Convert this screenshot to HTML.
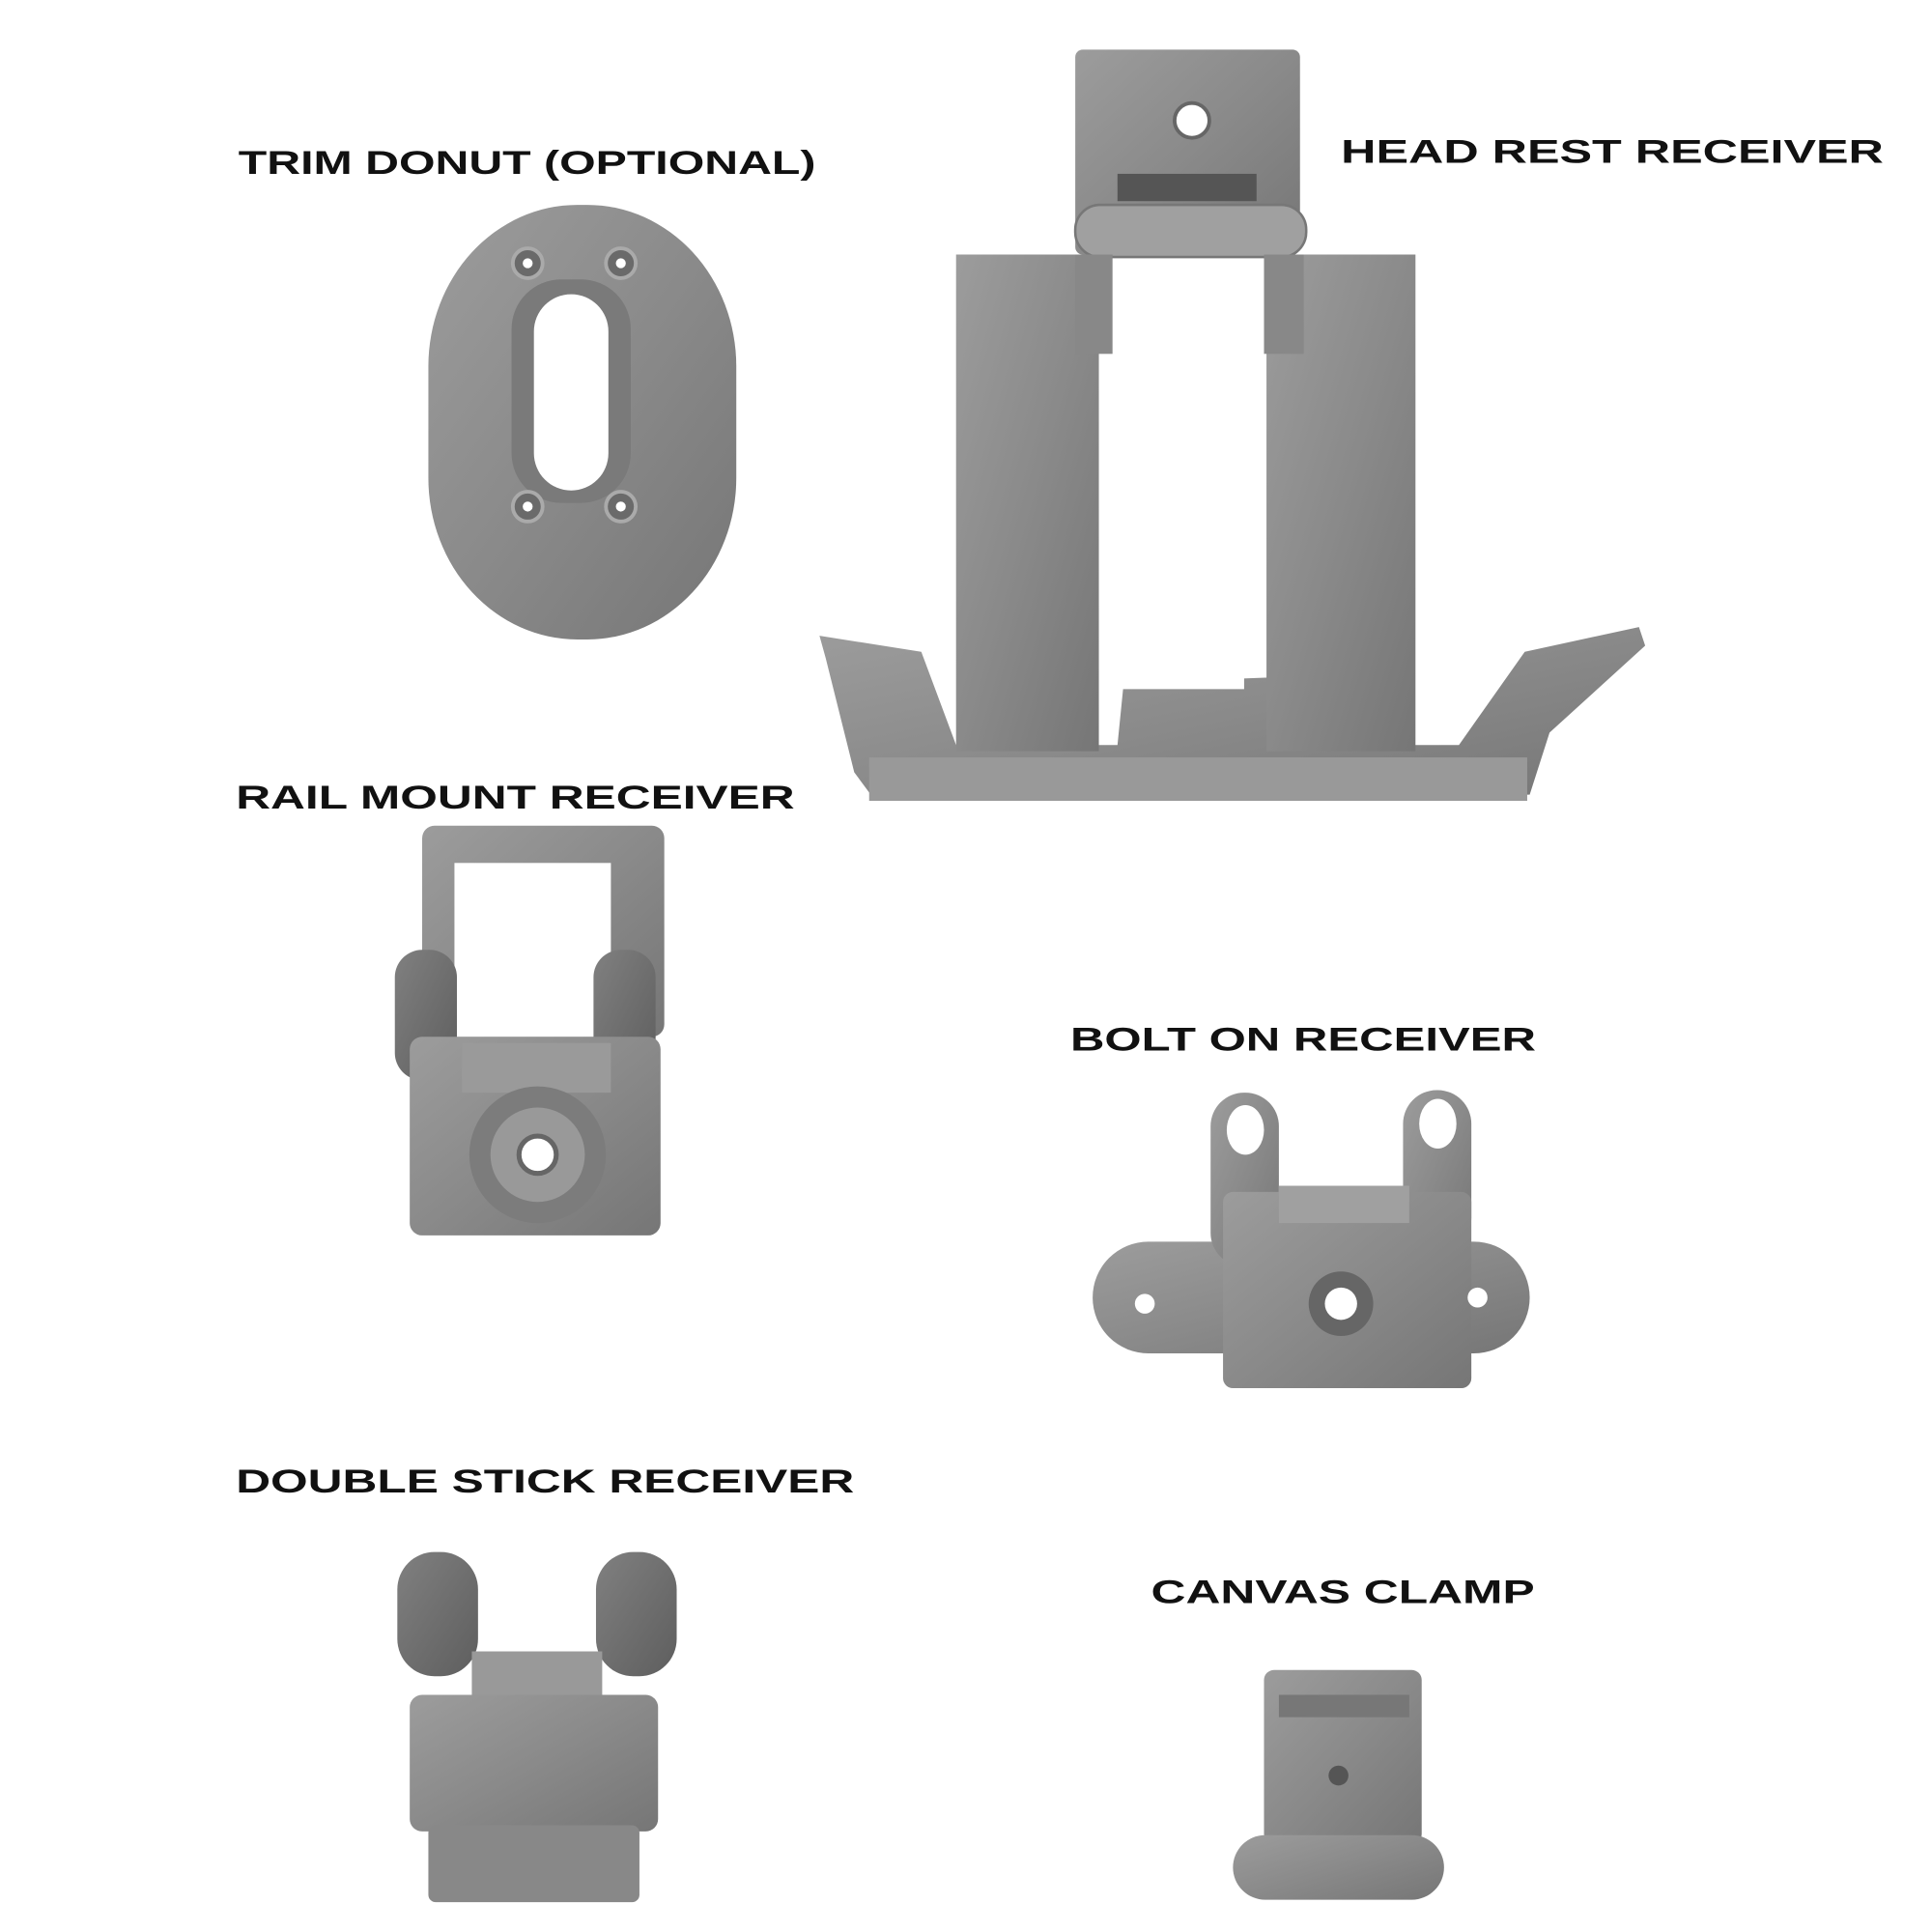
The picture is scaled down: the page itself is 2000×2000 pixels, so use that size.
<!DOCTYPE html>
<html><head><meta charset="utf-8"><style>
html,body{margin:0;padding:0;background:#fff}
svg{display:block}
text{font-family:"Liberation Sans",sans-serif;font-weight:bold;font-size:27px;fill:#111}
</style></head><body>
<svg width="2000" height="2000" viewBox="0 0 1556 1556" xmlns="http://www.w3.org/2000/svg">
<defs>
<linearGradient id="g" x1="0" y1="0" x2="1" y2="1">
<stop offset="0" stop-color="#9c9c9c"/><stop offset="0.5" stop-color="#8a8a8a"/><stop offset="1" stop-color="#767676"/></linearGradient>
<linearGradient id="d" x1="0" y1="0" x2="1" y2="1">
<stop offset="0" stop-color="#808080"/><stop offset="1" stop-color="#5e5e5e"/></linearGradient>
</defs>
<rect width="1556" height="1556" fill="#fff"/>

<!-- labels -->
<text x="192" y="140" textLength="465" lengthAdjust="spacingAndGlyphs">TRIM DONUT (OPTIONAL)</text>
<text x="1080" y="131" textLength="437" lengthAdjust="spacingAndGlyphs">HEAD REST RECEIVER</text>
<text x="190" y="651" textLength="450" lengthAdjust="spacingAndGlyphs">RAIL MOUNT RECEIVER</text>
<text x="862" y="846" textLength="375" lengthAdjust="spacingAndGlyphs">BOLT ON RECEIVER</text>
<text x="190" y="1202" textLength="498" lengthAdjust="spacingAndGlyphs">DOUBLE STICK RECEIVER</text>
<text x="927" y="1291" textLength="309" lengthAdjust="spacingAndGlyphs">CANVAS CLAMP</text>

<!-- trim donut -->
<rect x="345" y="165" width="248" height="350" rx="120" ry="130" fill="url(#g)"/>
<rect x="412" y="225" width="96" height="180" rx="40" fill="#7a7a7a"/>
<rect x="430" y="237" width="60" height="158" rx="30" fill="#fff"/>
<g fill="#6a6a6a" stroke="#aaa" stroke-width="3">
<circle cx="425" cy="212" r="12"/><circle cx="500" cy="212" r="12"/>
<circle cx="425" cy="408" r="12"/><circle cx="500" cy="408" r="12"/></g>
<g fill="#fff"><circle cx="425" cy="212" r="4"/><circle cx="500" cy="212" r="4"/><circle cx="425" cy="408" r="4"/><circle cx="500" cy="408" r="4"/></g>

<!-- head rest receiver -->
<polygon fill="url(#g)" points="660,512 742,525 770,600 900,600 905,550 1040,545 1045,600 1175,600 1228,525 1320,505 1325,520 1248,590 1232,640 705,645 688,622 665,530"/>
<rect x="700" y="610" width="530" height="35" fill="#999"/>
<rect x="770" y="205" width="115" height="400" fill="url(#g)"/>
<rect x="1020" y="205" width="120" height="400" fill="url(#g)"/>
<rect x="866" y="40" width="181" height="165" rx="6" fill="url(#g)"/>
<circle cx="960" cy="97" r="14" fill="#fff" stroke="#666" stroke-width="3"/>
<rect x="900" y="140" width="112" height="22" fill="#555"/>
<rect x="866" y="165" width="186" height="42" rx="20" fill="#a0a0a0" stroke="#777" stroke-width="2"/>
<rect x="866" y="205" width="30" height="80" fill="#888"/>
<rect x="1018" y="205" width="32" height="80" fill="#888"/>
<rect x="898" y="225" width="104" height="330" fill="#fff"/>

<!-- rail mount receiver -->
<rect x="340" y="665" width="195" height="170" rx="10" fill="url(#g)"/>
<rect x="366" y="695" width="126" height="140" fill="#fff"/>
<rect x="318" y="765" width="50" height="105" rx="22" fill="url(#d)"/>
<rect x="478" y="765" width="50" height="105" rx="22" fill="url(#d)"/>
<rect x="330" y="835" width="202" height="160" rx="10" fill="url(#g)"/>
<rect x="372" y="840" width="120" height="40" fill="#9a9a9a"/>
<circle cx="433" cy="930" r="55" fill="#7c7c7c"/>
<circle cx="433" cy="930" r="38" fill="#999"/>
<circle cx="433" cy="930" r="15" fill="#fff" stroke="#666" stroke-width="4"/>

<!-- bolt on receiver -->
<rect x="880" y="1000" width="352" height="90" rx="45" fill="url(#g)"/>
<rect x="975" y="880" width="55" height="140" rx="27" fill="url(#g)"/>
<rect x="1130" y="878" width="55" height="130" rx="27" fill="url(#g)"/>
<ellipse cx="1003" cy="910" rx="15" ry="20" fill="#fff"/>
<ellipse cx="1158" cy="905" rx="15" ry="20" fill="#fff"/>
<rect x="985" y="960" width="200" height="158" rx="8" fill="url(#g)"/>
<rect x="1030" y="955" width="105" height="30" fill="#a0a0a0"/>
<circle cx="1080" cy="1050" r="26" fill="#666"/>
<circle cx="1080" cy="1050" r="13" fill="#fff"/>
<circle cx="922" cy="1050" r="8" fill="#fff"/>
<circle cx="1190" cy="1045" r="8" fill="#fff"/>

<!-- double stick receiver -->
<rect x="320" y="1250" width="65" height="100" rx="30" fill="url(#d)"/>
<rect x="480" y="1250" width="65" height="100" rx="30" fill="url(#d)"/>
<rect x="380" y="1330" width="105" height="40" fill="#999"/>
<rect x="330" y="1365" width="200" height="110" rx="10" fill="url(#g)"/>
<rect x="345" y="1470" width="170" height="62" rx="6" fill="#888"/>

<!-- canvas clamp -->
<rect x="1018" y="1345" width="127" height="140" rx="8" fill="url(#g)"/>
<rect x="1030" y="1365" width="105" height="18" fill="#777"/>
<circle cx="1078" cy="1430" r="8" fill="#555"/>
<rect x="993" y="1478" width="170" height="52" rx="26" fill="url(#g)"/>
</svg>
</body></html>
